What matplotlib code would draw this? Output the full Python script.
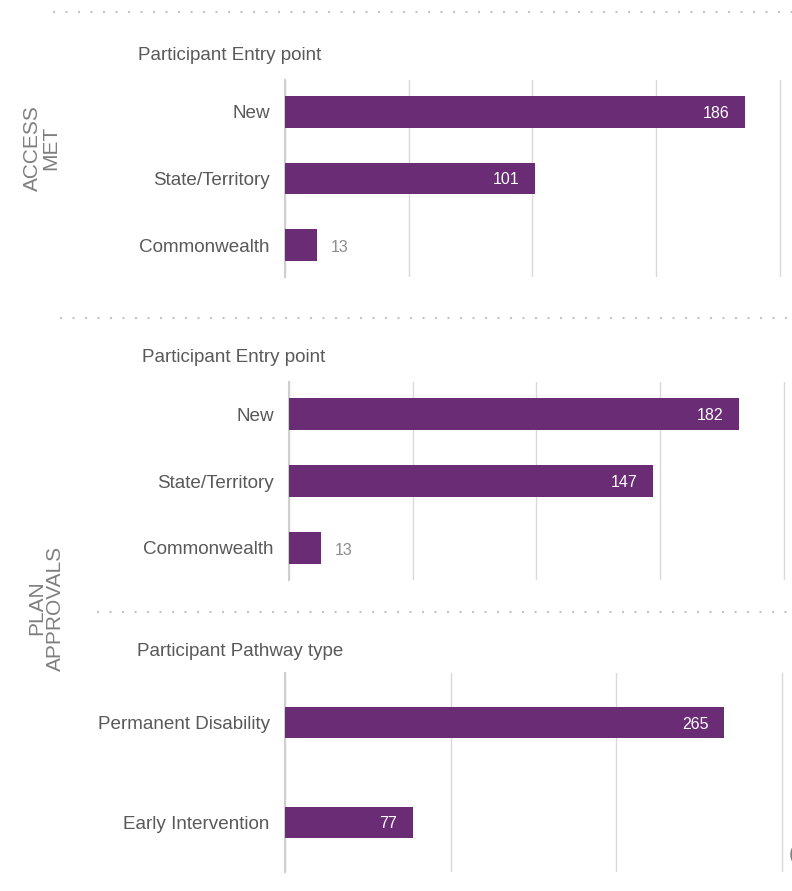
import matplotlib.pyplot as plt
from matplotlib.lines import Line2D

plt.rcParams['font.family'] = ['Liberation Sans', 'DejaVu Sans']

entry_cats = ["New", "State/Territory", "Commonwealth"]
access_met = [186, 101, 13]
plan_entry = [182, 147, 13]

pathway_cats = ["Permanent Disability", "Early Intervention"]
plan_pathway = [265, 77]

PURPLE = "#6a2c75"
LABEL = "#595959"
GRID = "#d9d9d9"

W, H = 792, 891
fig = plt.figure(figsize=(W / 100, H / 100), dpi=100)


def px_axes(x0, top, width, bottom):
    return fig.add_axes([x0 / W, 1 - bottom / H, width / W, (bottom - top) / H])


def bar_panel(ax, cats, vals, xmax, step, pad):
    ys = range(len(cats))
    ax.barh(ys, vals, height=0.47 if len(cats) == 3 else 0.31, color=PURPLE, zorder=3)
    ax.set_xlim(0, xmax)
    ax.set_ylim(len(cats) - 1 + pad, -pad)
    ax.set_yticks(list(ys))
    ax.set_yticklabels(cats, fontsize=13.6, color=LABEL)
    ax.tick_params(axis='y', length=0, pad=11)
    ax.set_xticks(range(0, int(xmax) + 1, step))
    ax.tick_params(axis='x', length=0, labelbottom=False)
    ax.grid(axis='x', color=GRID, linewidth=1)
    for s in ['top', 'right', 'bottom']:
        ax.spines[s].set_visible(False)
    ax.spines['left'].set_color('#cfcfcf')
    ax.spines['left'].set_linewidth(1.5)
    for y, v in zip(ys, vals):
        if v / xmax > 0.1:
            ax.annotate(str(v), (v, y), xytext=(-11, -1), textcoords='offset points',
                        ha='right', va='center', color='white', fontsize=11.5, zorder=4)
        else:
            ax.annotate(str(v), (v, y), xytext=(10, -2), textcoords='offset points',
                        ha='left', va='center', color='#8c8c8c', fontsize=11.5, zorder=4)


# Access met by entry point
ax1 = px_axes(285, 80, 500, 277)
bar_panel(ax1, entry_cats, access_met, 500 / 2.473, 50, 0.48)

# Plan approvals by entry point
ax2 = px_axes(289, 382, 500, 580)
bar_panel(ax2, entry_cats, plan_entry, 500 / 2.473, 50, 0.48)

# Plan approvals by pathway type
ax3 = px_axes(285, 673, 500, 872)
bar_panel(ax3, pathway_cats, plan_pathway, 500 / 1.657, 100, 0.5)

# section titles
fig.text(138 / W, 1 - 55 / H, "Participant Entry point", fontsize=13.5, color=LABEL, va='center')
fig.text(142 / W, 1 - 357 / H, "Participant Entry point", fontsize=13.5, color=LABEL, va='center')
fig.text(137 / W, 1 - 651 / H, "Participant Pathway type", fontsize=13.5, color=LABEL, va='center')

# side headings
fig.text(42 / W, 1 - 148 / H, "ACCESS\nMET", rotation=90, fontsize=15, color='#7f7f7f',
         ha='center', va='center', multialignment='center', linespacing=0.95)
fig.text(46 / W, 1 - 608 / H, "PLAN\nAPPROVALS", rotation=90, fontsize=15, color='#7f7f7f',
         ha='center', va='center', multialignment='center', linespacing=0.95)

# dotted separators
for x0, y in [(53, 12), (60, 318), (97, 612)]:
    fig.add_artist(Line2D([x0 / W, 1], [1 - y / H, 1 - y / H], transform=fig.transFigure,
                          color='#c4c4c4', linewidth=1.5, linestyle=(0, (1, 5)),
                          dash_capstyle='butt'))

# partial glyph at the right edge
fig.text(789 / W, 1 - 855 / H, "(", fontsize=15, color='#7f7f7f', va='center', ha='left')

fig.savefig("out.png", dpi=100)
